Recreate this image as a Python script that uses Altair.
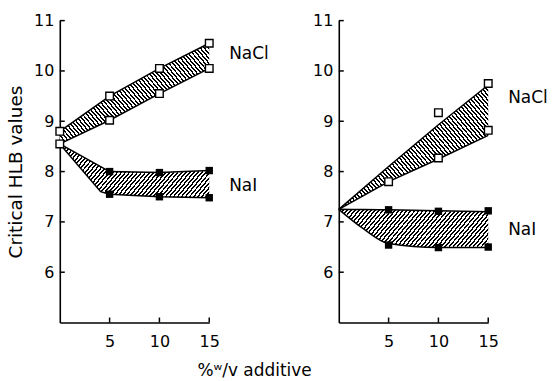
import math
import altair as alt
import pandas as pd

# ---------------- data ----------------
# left panel bands
L_NACL_X = [0, 5, 10, 15]
L_NACL_HI = [8.80, 9.50, 10.05, 10.55]
L_NACL_LO = [8.55, 9.02, 9.55, 10.05]
L_NAI_X = [0, 4.1, 5, 10, 15]
L_NAI_HI = [8.55, 8.10, 8.00, 7.98, 8.02]
L_NAI_LO = [8.55, 7.60, 7.55, 7.50, 7.48]
# left panel markers
L_OPEN_X = [0, 5, 10, 15, 0, 5, 10, 15]
L_OPEN_Y = [8.80, 9.50, 10.05, 10.55, 8.55, 9.02, 9.55, 10.05]
L_FILL_X = [5, 10, 15, 5, 10, 15]
L_FILL_Y = [8.00, 7.98, 8.02, 7.55, 7.50, 7.48]

# right panel bands
R_NACL_X = [0, 5, 10, 15]
R_NACL_HI = [7.25, 8.10, 8.93, 9.72]
R_NACL_LO = [7.25, 7.80, 8.25, 8.72]
R_NAI_X = [0, 2.5, 5, 10, 15]
R_NAI_HI = [7.25, 7.245, 7.24, 7.22, 7.20]
R_NAI_LO = [7.25, 6.86, 6.57, 6.49, 6.49]
# right panel markers
R_OPEN_X = [5, 10, 10, 15, 15]
R_OPEN_Y = [7.80, 9.17, 8.27, 9.75, 8.82]
R_FILL_X = [5, 10, 15, 5, 10, 15]
R_FILL_Y = [7.24, 7.21, 7.22, 6.54, 6.49, 6.50]

Y_TICKS = [6, 7, 8, 9, 10, 11]
X_TICKS = [5, 10, 15]
LABELS = ["NaCl", "NaI"]

# ---------------- styling ----------------
W, H = 150, 303
XDOM, YDOM = [0, 15], [5, 11]
PX_X = W / (XDOM[1] - XDOM[0])
PX_Y = H / (YDOM[1] - YDOM[0])
FONT = "DejaVu Sans"


def hatch(xs, ys, slope, spacing=3.1, ink=0.45):
    """Linear gradient with hard stops that draws diagonal hatching."""
    w = (max(xs) - min(xs)) * PX_X
    h = (max(ys) - min(ys)) * PX_Y
    dy = 1.0
    dx = -slope * w / h
    corners = [(0, 0), (1, 0), (0, 1), (1, 1)]
    f = [dx * u + dy * v for u, v in corners]
    i0 = f.index(min(f))
    fmin, fmax = min(f), max(f)
    lam = (fmax - fmin) / (dx * dx + dy * dy)
    x1, y1 = corners[i0]
    x2, y2 = x1 + lam * dx, y1 + lam * dy
    length = (fmax - fmin) / math.sqrt((dx / w) ** 2 + (dy / h) ** 2)
    n = length / spacing
    stops = []
    k = 0
    while k < n:
        a = k / n
        b = min((k + ink) / n, 1.0)
        c = min((k + 1) / n, 1.0)
        stops += [
            {"offset": round(a, 5), "color": "black"},
            {"offset": round(b, 5), "color": "black"},
            {"offset": round(b, 5), "color": "white"},
            {"offset": round(c, 5), "color": "white"},
        ]
        k += 1
    return alt.LinearGradient(
        gradient="linear", x1=x1, y1=y1, x2=x2, y2=y2,
        stops=[alt.GradientStop(**s) for s in stops],
    )


def panel(bands, open_pts, fill_pts, label_dy, first):
    x_axis = alt.Axis(
        values=X_TICKS, ticks=False, grid=False, domainColor="black",
        domainWidth=1.6, labelFont=FONT, labelFontSize=16, labelColor="black",
        labelPadding=11, labelFlush=False,
        title="%ʷ/v  additive" if first else "",
        titleFont=FONT, titleFontSize=17, titleFontWeight="normal",
        titleColor="black", titleX=195, titleY=53, titleBaseline="alphabetic",
        titleAlign="center",
    )
    y_axis = alt.Axis(
        values=Y_TICKS, ticks=False, grid=False, domainColor="black",
        domainWidth=1.6, labelFont=FONT, labelFontSize=16, labelColor="black",
        labelPadding=6, labelFlush=False,
        title="Critical HLB values" if first else "",
        titleFont=FONT, titleFontSize=18.5, titleFontWeight="normal",
        titleColor="black", titlePadding=8,
    )
    xs = alt.Scale(domain=XDOM, nice=False, zero=False)
    ys = alt.Scale(domain=YDOM, nice=False, zero=False)

    def X(f):
        return alt.X(f, type="quantitative", scale=xs, axis=x_axis)

    def Y(f):
        return alt.Y(f, type="quantitative", scale=ys, axis=y_axis)

    layers = []
    lab_rows = []
    for (bx, hi, lo, slope, interp), name in zip(bands, LABELS):
        df = pd.DataFrame({"x": bx, "hi": hi, "lo": lo})
        grad = hatch(bx, hi + lo, slope)
        layers.append(
            alt.Chart(df).mark_area(fill=grad, opacity=1, interpolate=interp)
            .encode(x=X("x"), y=Y("hi"), y2="lo")
        )
        for col in ["hi", "lo"]:
            layers.append(
                alt.Chart(df).mark_line(color="black", strokeWidth=1.5,
                                        interpolate=interp)
                .encode(x=X("x"), y=Y(col))
            )
        lab_rows.append({"x": bx[-1], "y": (hi[-1] + lo[-1]) / 2, "t": name})

    # inward tick marks
    layers.append(
        alt.Chart(pd.DataFrame({"v": Y_TICKS})).mark_rule(color="black", strokeWidth=1.5)
        .encode(y=Y("v"), x=alt.value(0), x2=alt.value(5))
    )
    layers.append(
        alt.Chart(pd.DataFrame({"v": X_TICKS})).mark_rule(color="black", strokeWidth=1.5)
        .encode(x=X("v"), y=alt.value(H), y2=alt.value(H - 5))
    )

    ox, oy = open_pts
    fx, fy = fill_pts
    layers.append(
        alt.Chart(pd.DataFrame({"x": fx, "y": fy}))
        .mark_point(shape="square", filled=True, color="black", size=55, opacity=1)
        .encode(x=X("x"), y=Y("y"))
    )
    layers.append(
        alt.Chart(pd.DataFrame({"x": ox, "y": oy}))
        .mark_point(shape="square", fill="white", stroke="black", strokeWidth=1.4,
                    size=58, opacity=1, fillOpacity=1)
        .encode(x=X("x"), y=Y("y"))
    )
    for row, d in zip(lab_rows, label_dy):
        layers.append(
            alt.Chart(pd.DataFrame([row]))
            .mark_text(align="left", baseline="middle", dx=20, dy=d, font=FONT,
                       fontSize=17, color="black")
            .encode(x=X("x"), y=Y("y"), text="t:N")
        )
    return alt.layer(*layers).properties(width=W, height=H)


left = panel(
    [(L_NACL_X, L_NACL_HI, L_NACL_LO, 1.2, "linear"),
     (L_NAI_X, L_NAI_HI, L_NAI_LO, -1.2, "linear")],
    (L_OPEN_X, L_OPEN_Y), (L_FILL_X, L_FILL_Y), [-2, 2], True,
)
right = panel(
    [(R_NACL_X, R_NACL_HI, R_NACL_LO, 1.2, "linear"),
     (R_NAI_X, R_NAI_HI, R_NAI_LO, -1.2, "monotone")],
    (R_OPEN_X, R_OPEN_Y), (R_FILL_X, R_FILL_Y), [-12, 0], False,
)

chart = (
    alt.hconcat(left, right, spacing=130, bounds="flush")
    .properties(padding={"left": 6, "top": 12, "right": 5, "bottom": 5},
                background="white")
    .configure_view(stroke=None)
)

chart.save("out.html", embed_options={"renderer": "svg", "actions": False})
